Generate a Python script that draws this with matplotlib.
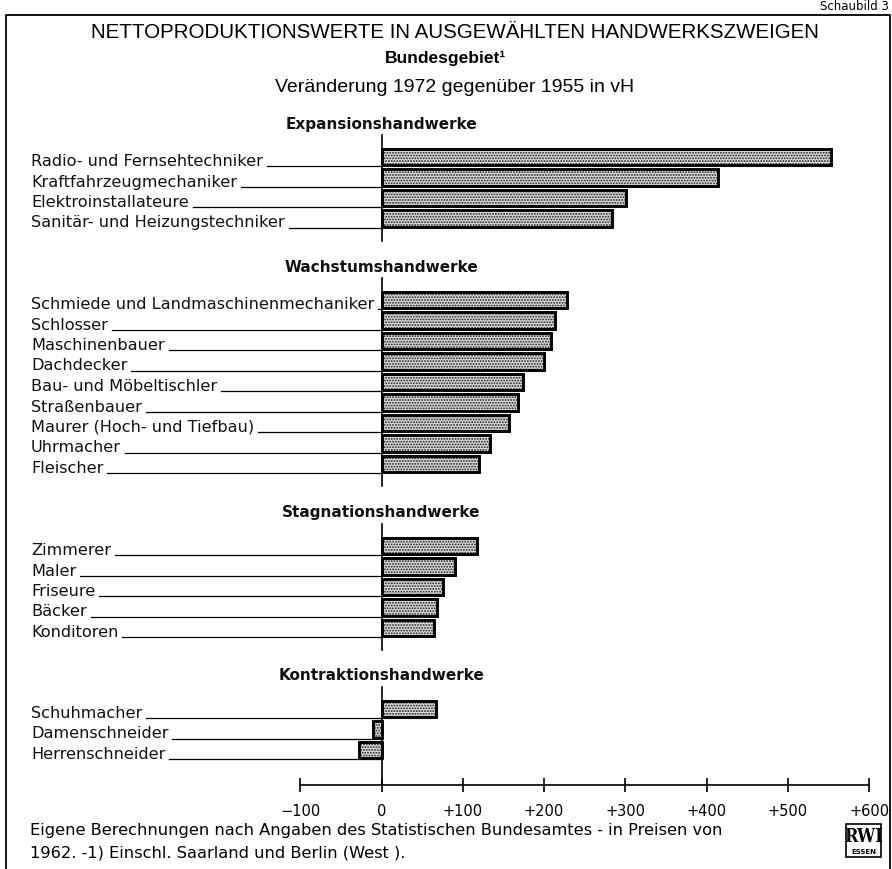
import matplotlib
matplotlib.use("Agg")
import matplotlib.pyplot as plt
from matplotlib import font_manager
from matplotlib.patches import Rectangle

# data: change 1972 vs 1955 in percent
groups = ["Expansionshandwerke", "Wachstumshandwerke",
          "Stagnationshandwerke", "Kontraktionshandwerke"]

expansion_labels = ["Radio- und Fernsehtechniker", "Kraftfahrzeugmechaniker",
                    "Elektroinstallateure", "Sanitär- und Heizungstechniker"]
expansion_values = [553, 414, 301, 283]

wachstum_labels = ["Schmiede und Landmaschinenmechaniker", "Schlosser",
                   "Maschinenbauer", "Dachdecker", "Bau- und Möbeltischler",
                   "Straßenbauer", "Maurer (Hoch- und Tiefbau)", "Uhrmacher",
                   "Fleischer"]
wachstum_values = [228, 213, 208, 200, 174, 168, 157, 133, 120]

stagnation_labels = ["Zimmerer", "Maler", "Friseure", "Bäcker", "Konditoren"]
stagnation_values = [117, 90, 76, 68, 65]

kontraktion_labels = ["Schuhmacher", "Damenschneider", "Herrenschneider"]
kontraktion_values = [67, -10, -28]

ticks = [-100, 0, 100, 200, 300, 400, 500, 600]
tick_labels = ["\u2212100", "0", "+100", "+200", "+300", "+400", "+500", "+600"]

names = {f.name for f in font_manager.fontManager.ttflist}
narrow = "Liberation Sans Narrow" if "Liberation Sans Narrow" in names else None

plt.rcParams["hatch.linewidth"] = 0.9

fig = plt.figure(figsize=(8.92, 8.69), dpi=100)
ax = fig.add_axes([0, 0, 1, 1])

# horizontal: value units, 0 at pixel 381.5, 0.813 px per unit
X0 = 381.5
S = 0.813
def px(x):
    return (x - X0) / S

ax.set_xlim(px(0), px(892))
ax.set_ylim(869, 0)
for s in ["top", "left", "right"]:
    ax.spines[s].set_visible(False)
ax.set_yticks([])

# layout of the four blocks (first bar centre, in pixels from top)
starts = [157, 300, 546, 709]
step = 20.5
bar_h = 16.5
all_labels = [expansion_labels, wachstum_labels, stagnation_labels, kontraktion_labels]
all_values = [expansion_values, wachstum_values, stagnation_values, kontraktion_values]

label_texts = []
for g, (name, labs, vals, y0) in enumerate(zip(groups, all_labels, all_values, starts)):
    ys = [y0 + i * step for i in range(len(vals))]
    ax.barh(ys, vals, height=bar_h, left=0, color="#d9d9d9", edgecolor="#1a1a1a",
            hatch="......", linewidth=0, zorder=2)
    ax.barh(ys, vals, height=bar_h, left=0, fill=False, edgecolor="black",
            linewidth=2.1, zorder=3)
    ax.text(0, y0 - 33, name, ha="center", va="center", fontsize=11,
            family="DejaVu Sans", fontweight="bold", color="#111111")
    bottom = 785 if g == 3 else ys[-1] + 22
    ax.plot([0, 0], [y0 - 22, bottom], color="black", lw=1.2, zorder=4)
    for lab, y in zip(labs, ys):
        t = ax.text(px(31), y + 9, lab, ha="left", va="baseline", fontsize=11.6,
                    family="DejaVu Sans", color="#111111")
        label_texts.append((t, y + 9))

# leader lines from the end of each label to the zero line
fig.canvas.draw()
r = fig.canvas.get_renderer()
inv = ax.transData.inverted()
for t, y in label_texts:
    bb = t.get_window_extent(renderer=r)
    xe = inv.transform((bb.x1, bb.y0))[0] + 4 / S
    if xe < 0:
        ax.plot([xe, 0], [y, y], color="black", lw=0.9, zorder=1)

# value axis
ax.spines["bottom"].set_position(("data", 785))
ax.spines["bottom"].set_bounds(-100, 600)
ax.spines["bottom"].set_linewidth(1.2)
ax.set_xticks(ticks)
ax.set_xticklabels(tick_labels, fontsize=10.5, family="DejaVu Sans")
ax.tick_params(axis="x", direction="inout", length=10, width=1.2, pad=9)

# titles
tfam = narrow if narrow else "Liberation Sans"
ax.text(px(455), 33, "NETTOPRODUKTIONSWERTE IN AUSGEWÄHLTEN HANDWERKSZWEIGEN",
        ha="center", va="center", fontsize=17.5 if narrow else 14.8, family=tfam)
ax.text(px(445), 58, "Bundesgebiet\u00b9", ha="center", va="center",
        fontsize=12.5, family=tfam, fontweight="bold")
ax.text(px(455), 88, "Veränderung 1972 gegenüber 1955 in vH", ha="center",
        va="center", fontsize=14, family="Liberation Sans")

# footnote
ax.text(px(30), 831, "Eigene Berechnungen nach Angaben des Statistischen Bundesamtes - in Preisen von",
        ha="left", va="center", fontsize=11.7, family="DejaVu Sans")
ax.text(px(30), 853, "1962. -1) Einschl. Saarland und Berlin (West ).",
        ha="left", va="center", fontsize=11.7, family="DejaVu Sans")

# logo
ax.add_patch(Rectangle((px(846), 824), 35 / S, 33, fill=False, lw=1.2,
                       edgecolor="black", clip_on=False))
ax.text(px(863.5), 837, "RWI", ha="center", va="center", fontsize=13,
        family="DejaVu Serif", fontweight="bold", fontstretch="condensed")
ax.text(px(863.5), 851.5, "ESSEN", ha="center", va="center", fontsize=5,
        family="DejaVu Sans", fontweight="bold")

# frame and sheet header
ax.plot([px(6), px(6), px(890), px(890)], [869, 15, 15, 869], color="black",
        lw=1.3, clip_on=False)
ax.text(px(889), 7, "Schaubild 3", ha="right", va="center", fontsize=8.5,
        family="DejaVu Sans")

fig.savefig("out.png", dpi=100)
